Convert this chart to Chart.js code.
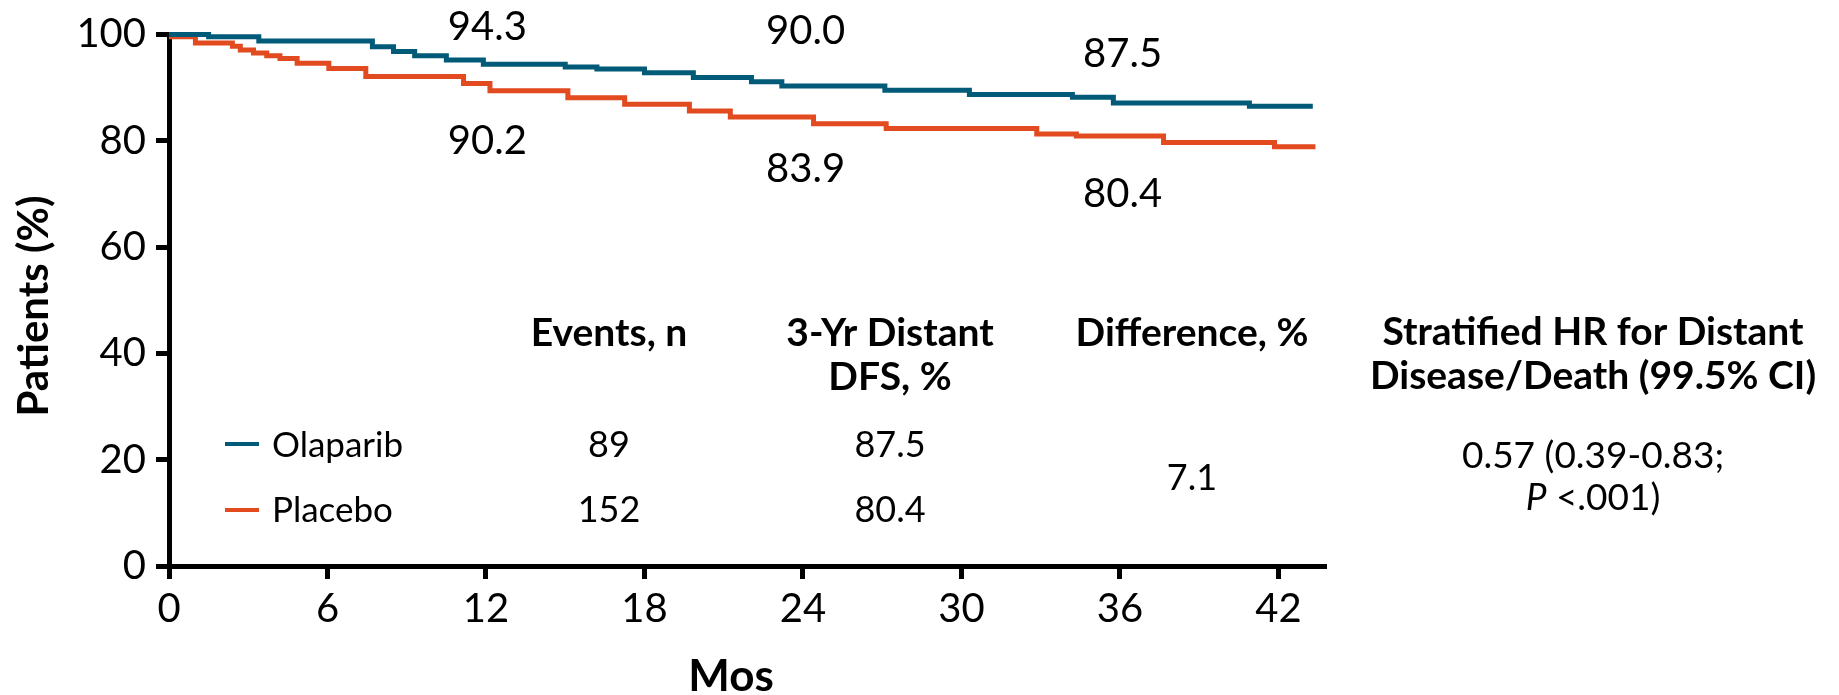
<!DOCTYPE html>
<html>
<head>
<meta charset="utf-8">
<script src="https://cdn.jsdelivr.net/npm/chart.js@4.4.1/dist/chart.umd.min.js"></script>
<style>
    body { margin: 0; background: #fff; }
</style>
</head>
<body>
<canvas id="kmChart" width="1839" height="695"></canvas>
<script>
// Distant DFS Kaplan-Meier curves (months, % event-free)
const xTicks = [0, 6, 12, 18, 24, 30, 36, 42];
const yTicks = [0, 20, 40, 60, 80, 100];
const seriesNames = ['Olaparib', 'Placebo'];

const olaparibMonths = [0, 1.5, 3.4, 7.7, 8.5, 9.3, 10.5, 11.9, 15.0, 16.2, 18.0, 19.85, 22.05, 23.2, 27.1, 30.3, 34.2, 35.75, 40.9, 43.3];
const olaparibPct    = [100, 99.6, 98.8, 97.7, 96.8, 96.0, 95.2, 94.4, 93.9, 93.5, 92.8, 91.9, 91.1, 90.3, 89.5, 88.7, 88.2, 87.1, 86.5, 86.5];

const placeboMonths = [0, 1.0, 2.4, 2.7, 3.2, 3.7, 4.2, 4.85, 6.05, 7.45, 11.15, 12.15, 15.1, 17.25, 19.7, 21.25, 24.4, 27.15, 32.85, 34.35, 37.65, 41.85, 43.4];
const placeboPct    = [99.6, 98.4, 97.8, 97.1, 96.5, 96.0, 95.5, 94.6, 93.6, 92.1, 90.8, 89.4, 88.1, 86.9, 85.6, 84.5, 83.2, 82.3, 81.3, 80.9, 79.7, 78.9, 78.9];

// yearly landmark rates shown on the plot
const landmarkMonths = [12, 24, 36];
const olaparibLandmarks = ['94.3', '90.0', '87.5'];
const placeboLandmarks = ['90.2', '83.9', '80.4'];

// summary table
const eventsN = ['89', '152'];
const dfs3yr = ['87.5', '80.4'];
const diffPct = '7.1';
const hrValue = '0.57 (0.39-0.83;';
const pValue = '<.001)';

const colors = ['#005a78', '#e24a1f'];
const FONT = '"Lato", "Open Sans", sans-serif';

function toPoints(xs, ys) {
    return xs.map((m, i) => ({ x: m, y: ys[i] }));
}

const textPlugin = {
    id: 'kmText',
    afterDraw(chart) {
        const ctx = chart.ctx;
        const x = chart.scales.x;
        const y = chart.scales.y;
        ctx.save();
        ctx.fillStyle = '#000';
        ctx.textAlign = 'center';
        ctx.textBaseline = 'alphabetic';

        // landmark labels above / below the curves
        const olapLabelY = [98.9, 98.3, 93.9];
        const placLabelY = [77.6, 72.3, 67.5];
        const labelShift = [0.05, 0.1, 0.1];
        ctx.font = '40px ' + FONT;
        landmarkMonths.forEach((m, i) => {
            ctx.fillText(olaparibLandmarks[i], x.getPixelForValue(m + labelShift[i]), y.getPixelForValue(olapLabelY[i]));
            ctx.fillText(placeboLandmarks[i], x.getPixelForValue(m + labelShift[i]), y.getPixelForValue(placLabelY[i]));
        });

        // table headers
        ctx.font = 'bold 39px ' + FONT;
        ctx.fillText('Events, n', 609, 346);
        ctx.fillText('3-Yr Distant', 890, 346);
        ctx.fillText('DFS, %', 890, 390);
        ctx.fillText('Difference, %', 1192, 346);
        ctx.fillText('Stratified HR for Distant', 1593, 345);
        ctx.fillText('Disease/Death (99.5% CI)', 1593, 389);

        // legend rows
        const rowY = [457, 522];
        const swatchY = [444, 510];
        ctx.lineWidth = 4;
        seriesNames.forEach((name, i) => {
            ctx.strokeStyle = colors[i];
            ctx.beginPath();
            ctx.moveTo(225, swatchY[i]);
            ctx.lineTo(259, swatchY[i]);
            ctx.stroke();
            ctx.font = '35px ' + FONT;
            ctx.textAlign = 'left';
            ctx.fillText(name, 272, rowY[i]);
            ctx.textAlign = 'center';
            ctx.font = '36px ' + FONT;
            ctx.fillText(eventsN[i], 609, rowY[i]);
            ctx.fillText(dfs3yr[i], 890, rowY[i]);
        });
        ctx.fillText(diffPct, 1192, 490);
        ctx.font = '37px ' + FONT;
        ctx.fillText(hrValue, 1593, 468);

        // "P <.001)" with italic P
        ctx.font = 'italic 37px ' + FONT;
        const pw = ctx.measureText('P').width;
        ctx.font = '37px ' + FONT;
        const rest = ' ' + pValue;
        const rw = ctx.measureText(rest).width;
        const startX = 1593 - (pw + rw) / 2;
        ctx.textAlign = 'left';
        ctx.font = 'italic 37px ' + FONT;
        ctx.fillText('P', startX, 510);
        ctx.font = '37px ' + FONT;
        ctx.fillText(rest, startX + pw, 510);

        // axis titles
        ctx.textAlign = 'center';
        ctx.font = 'bold 44px ' + FONT;
        ctx.fillText('Mos', 731, 691);
        ctx.font = 'bold 42px ' + FONT;
        ctx.translate(48, 306);
        ctx.rotate(-Math.PI / 2);
        ctx.fillText('Patients (%)', 0, 0);
        ctx.restore();
    }
};

function drawKaplanMeier() {
    const canvas = document.getElementById('kmChart');
    const ctx = canvas.getContext('2d');
    new Chart(ctx, {
        type: 'line',
        data: {
            datasets: [
                {
                    label: seriesNames[0],
                    data: toPoints(olaparibMonths, olaparibPct),
                    borderColor: colors[0],
                    borderWidth: 5,
                    stepped: true,
                    pointRadius: 0,
                    clip: false
                },
                {
                    label: seriesNames[1],
                    data: toPoints(placeboMonths, placeboPct),
                    borderColor: colors[1],
                    borderWidth: 5,
                    stepped: true,
                    pointRadius: 0,
                    clip: false
                }
            ]
        },
        options: {
            responsive: false,
            animation: false,
            layout: { padding: { top: 34.5, right: 513, left: 0, bottom: 0 } },
            plugins: { legend: { display: false }, tooltip: { enabled: false } },
            scales: {
                x: {
                    type: 'linear',
                    min: 0,
                    max: 43.8,
                    afterBuildTicks: s => { s.ticks = xTicks.map(v => ({ value: v })); },
                    afterFit: s => { s.height = 129; },
                    ticks: { color: '#000', font: { family: FONT, size: 40 }, padding: 6, maxRotation: 0 },
                    grid: { drawOnChartArea: false, tickLength: 13, tickWidth: 5, tickColor: '#000' },
                    border: { display: true, color: '#000', width: 5 }
                },
                y: {
                    min: 0,
                    max: 100,
                    afterBuildTicks: s => { s.ticks = yTicks.map(v => ({ value: v })); },
                    afterFit: s => { s.width = 169; },
                    ticks: { color: '#000', font: { family: FONT, size: 40 }, padding: 10 },
                    grid: { drawOnChartArea: false, tickLength: 13, tickWidth: 5, tickColor: '#000' },
                    border: { display: true, color: '#000', width: 5 }
                }
            }
        },
        plugins: [textPlugin]
    });
}

window.onload = drawKaplanMeier;
</script>
</body>
</html>
